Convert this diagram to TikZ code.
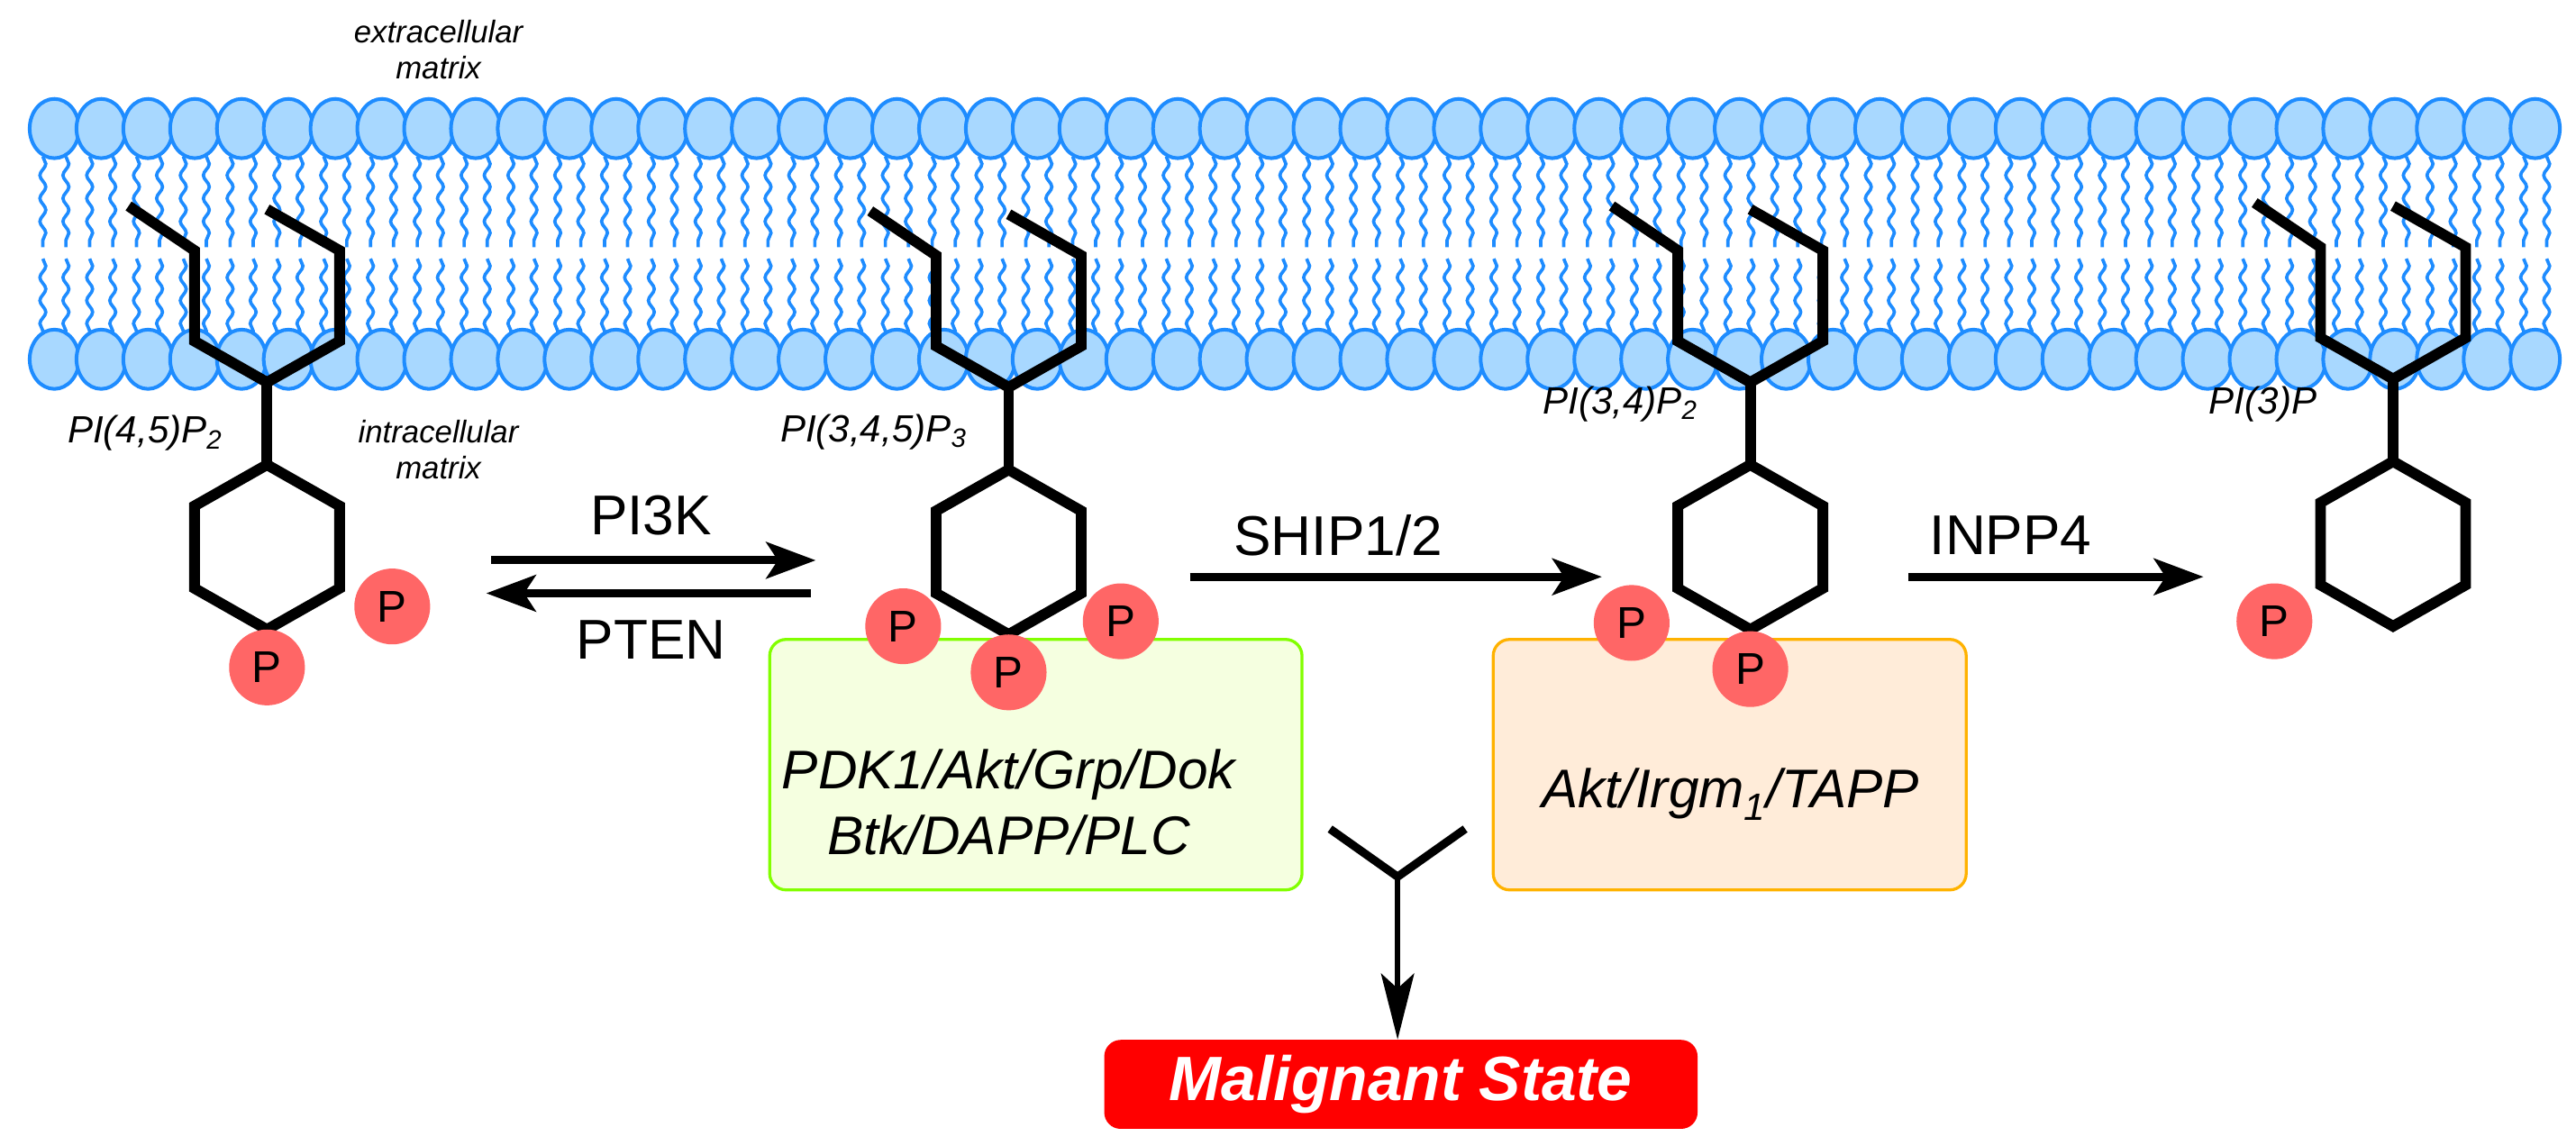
\documentclass[tikz,border=0pt]{standalone}
\usepackage{fontspec}
\setmainfont{Liberation Sans}
\usetikzlibrary{arrows.meta,decorations.pathmorphing,shapes.geometric}
\definecolor{headfill}{HTML}{A8D8FF}
\definecolor{headline}{HTML}{1E8CFF}
\definecolor{pred}{HTML}{FF6666}
\tikzset{
 head/.style={ellipse,draw=headline,fill=headfill,line width=2.2pt,minimum width=30pt,minimum height=36pt,inner sep=0pt},
 tail/.style={draw=headline,line width=2pt,decorate,decoration={snake,segment length=14pt,amplitude=1.8pt}},
 bond/.style={line width=6.5pt,line join=miter,line cap=butt},
 phos/.style={circle,fill=pred,minimum size=46pt,inner sep=0pt,font=\fontsize{27}{30}\selectfont},
 lbl/.style={font=\itshape\fontsize{23}{26}\selectfont},
 enz/.style={font=\fontsize{34}{38}\selectfont},
 rx/.style={line width=5pt,-{Stealth[length=30pt,width=22pt,inset=7pt]}},
 mol/.pic={
   \draw[bond] (-84,-107) -- (-44,-80) -- (-44,-25) -- (0,0) -- (44,-25) -- (44,-80) -- (0,-105);
   \draw[bond] (0,0) -- (0,50);
   \draw[bond] (0,50) -- (44,75) -- (44,125) -- (0,150) -- (-44,125) -- (-44,75) -- cycle;
 }
}
\begin{document}
\begin{tikzpicture}[x=1pt,y=-1pt]
\useasboundingbox (0,0) rectangle (1563,695);
% membrane
\foreach \i in {0,...,53}{
  \pgfmathsetmacro\hx{33+\i*28.4}
  \draw[tail] (\hx-7,95) -- (\hx-7,150);
  \draw[tail] (\hx+7,95) -- (\hx+7,150);
  \draw[tail] (\hx-7,157) -- (\hx-7,203);
  \draw[tail] (\hx+7,157) -- (\hx+7,203);
  \node[head] at (\hx,78) {};
  \node[head] at (\hx,218) {};
}
\node[font=\itshape\fontsize{19}{22}\selectfont,align=center] (ext) at (266,30) {extracellular\\matrix};
\node[font=\itshape\fontsize{19}{22}\selectfont,align=center] (int) at (266,273) {intracellular\\matrix};
% molecules
\pic at (162,232) {mol};
\pic at (612,235) {mol};
\pic at (1062,232) {mol};
\pic at (1452,230) {mol};
\node[lbl] (l1) at (88,263) {PI(4,5)P\textsubscript{2}};
\node[lbl] (l2) at (530,262) {PI(3,4,5)P\textsubscript{3}};
\node[lbl] (l3) at (983,245) {PI(3,4)P\textsubscript{2}};
\node[lbl] (l4) at (1373,245) {PI(3)P};
% boxes
\draw[draw=green!60!lime!70!yellow,fill=green!10!lime!12!white,line width=1.8pt,rounded corners=10pt] (467,388) rectangle (790,540);
\node[font=\itshape\fontsize{33}{40}\selectfont,align=center] (gtext) at (612,487) {PDK1/Akt/Grp/Dok\\Btk/DAPP/PLC};
\draw[draw=orange!60!yellow,fill=orange!15!white,line width=1.8pt,rounded corners=10pt] (906,388) rectangle (1193,540);
\node[font=\itshape\fontsize{33}{36}\selectfont] (otext) at (1050,482) {Akt/Irgm\textsubscript{1}/TAPP};
% phosphates
\node[phos] (p1a) at (238,368) {P};
\node[phos] (p1b) at (162,405) {P};
\node[phos] (p2a) at (548,380) {P};
\node[phos] (p2b) at (612,408) {P};
\node[phos] (p2c) at (680,377) {P};
\node[phos] (p3a) at (990,378) {P};
\node[phos] (p3b) at (1062,406) {P};
\node[phos] (p4a) at (1380,377) {P};
% reactions
\coordinate (a1s) at (298,340); \coordinate (a1e) at (495,340);
\coordinate (a2s) at (492,360); \coordinate (a2e) at (295,360);
\draw[rx] (a1s) -- (a1e);
\draw[rx] (a2s) -- (a2e);
\node[enz] (pi3k) at (395,313) {PI3K};
\node[enz] (pten) at (395,388) {PTEN};
\coordinate (s1) at (722,350); \coordinate (s2) at (972,350);
\draw[rx] (s1) -- (s2);
\node[enz] (ship) at (812,325) {SHIP1/2};
\coordinate (i1) at (1158,350); \coordinate (i2) at (1337,350);
\draw[rx] (i1) -- (i2);
\node[enz] (inpp) at (1220,325) {INPP4};
% merge
\node[draw=none,fill=red,rounded corners=10pt,minimum width=360pt,minimum height=54pt,text=white,font=\bfseries\itshape\fontsize{38}{42}\selectfont] (mal) at (850,658) {Malignant State};
\coordinate (ml) at (807,503); \coordinate (mr) at (889,503); \coordinate (mj) at (848,532);
\draw[line width=5pt] (ml) -- (mj) -- (mr);
\draw[line width=3.5pt,-{Stealth[length=40pt,width=20pt,inset=9pt]}] (mj) -- (mal.north -| mj);
\end{tikzpicture}
\end{document}
